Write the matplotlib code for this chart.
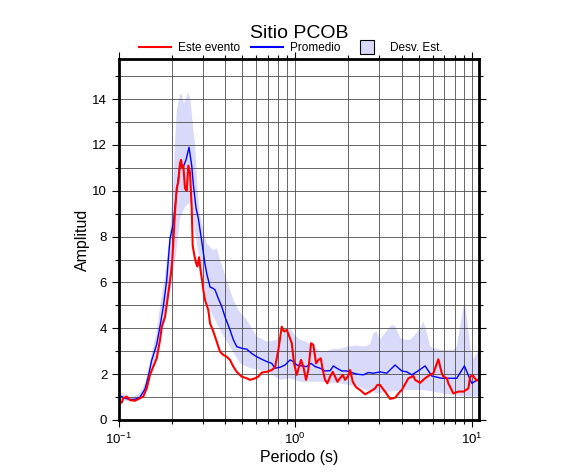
import numpy as np
import matplotlib
matplotlib.use('Agg')
import matplotlib.pyplot as plt
from matplotlib.lines import Line2D
from matplotlib.ticker import LogLocator, MultipleLocator, NullFormatter

plt.rcParams['font.family'] = ['Liberation Sans', 'DejaVu Sans']
plt.rcParams['mathtext.default'] = 'regular'

# ---- data (period in s, amplitude) ----
mean_per = [0.100, 0.101, 0.108, 0.115, 0.123, 0.1316, 0.1404, 0.1466, 0.1532, 0.1636,
            0.1709, 0.1784, 0.1865, 0.1904, 0.1947, 0.2032, 0.2125, 0.2218, 0.2316, 0.2399,
            0.2495, 0.2584, 0.2638, 0.2733, 0.2817, 0.2945, 0.3074, 0.3143, 0.3282, 0.3400,
            0.3503, 0.3658, 0.3824, 0.3992, 0.4262, 0.4450, 0.4652, 0.4966, 0.5302, 0.5660,
            0.6041, 0.6448, 0.6882, 0.7347, 0.7672, 0.8190, 0.8743, 0.9332, 0.9743, 1.018,
            1.087, 1.160, 1.228, 1.294, 1.381, 1.474, 1.574, 1.643, 1.718, 1.833,
            1.957, 2.089, 2.231, 2.431, 2.595, 2.770, 2.900, 3.022, 3.299, 3.676,
            4.014, 4.285, 4.574, 4.986, 5.442, 5.938, 6.767, 8.230, 9.089, 10.01,
            10.91]
mean_amp = [1.08, 1.06, 0.95, 0.90, 0.90, 1.00, 1.35, 1.90, 2.60, 3.30,
            4.10, 4.95, 6.10, 7.00, 7.90, 8.60, 10.0, 11.1, 11.05, 11.35,
            11.9, 11.1, 10.3, 9.25, 8.80, 7.80, 6.80, 6.40, 5.80, 5.75,
            5.68, 5.30, 4.95, 4.50, 3.93, 3.50, 3.20, 3.13, 3.09, 2.90,
            2.76, 2.65, 2.55, 2.47, 2.26, 2.30, 2.40, 2.62, 2.55, 2.40,
            2.36, 2.33, 2.47, 2.33, 2.26, 2.14, 2.15, 2.36, 2.26, 2.14,
            2.14, 2.07, 2.00, 1.97, 2.07, 2.04, 2.07, 2.10, 2.04, 2.40,
            2.14, 2.10, 1.97, 2.15, 2.36, 1.92, 1.82, 1.82, 2.36, 1.60,
            1.78]

event_per = [0.100, 0.1036, 0.1058, 0.1106, 0.1154, 0.1232, 0.1316, 0.1373, 0.1436, 0.1499,
             0.1565, 0.1636, 0.1709, 0.1747, 0.1824, 0.1904, 0.1972, 0.2006, 0.2078, 0.2125,
             0.2170, 0.2218, 0.2248, 0.2286, 0.2316, 0.2368, 0.2421, 0.2472, 0.2527, 0.2584,
             0.2618, 0.2673, 0.2733, 0.2780, 0.2843, 0.2907, 0.2945, 0.3007, 0.3074, 0.3209,
             0.3282, 0.3427, 0.3582, 0.3740, 0.3905, 0.4082, 0.4262, 0.4450, 0.4652, 0.4966,
             0.5302, 0.5536, 0.5909, 0.6168, 0.6448, 0.6882, 0.7347, 0.7672, 0.8011, 0.8374,
             0.8630, 0.8939, 0.9249, 0.9541, 0.9832, 1.018, 1.050, 1.077, 1.110, 1.150,
             1.185, 1.228, 1.265, 1.311, 1.351, 1.394, 1.431, 1.474, 1.519, 1.574,
             1.630, 1.680, 1.731, 1.793, 1.858, 1.914, 1.983, 2.044, 2.117, 2.210,
             2.328, 2.485, 2.653, 2.832, 2.918, 3.022, 3.226, 3.444, 3.676, 3.926,
             4.014, 4.375, 4.671, 4.776, 5.098, 5.442, 5.807, 6.064, 6.473, 6.767,
             6.910, 7.224, 7.376, 7.873, 8.404, 9.000, 9.578, 9.793, 10.14, 10.35,
             10.69, 11.0]
event_amp = [0.73, 0.76, 0.95, 1.02, 0.87, 0.84, 0.95, 1.02, 1.38, 1.97,
             2.33, 2.69, 3.49, 4.07, 4.50, 5.53, 6.40, 7.00, 9.10, 10.1,
             10.4, 11.2, 11.35, 11.0, 11.1, 10.1, 10.0, 11.1, 10.8, 9.25,
             7.60, 7.20, 6.85, 6.70, 7.10, 6.48, 6.20, 5.68, 5.24, 4.80,
             4.22, 3.86, 3.42, 2.98, 2.84, 2.76, 2.62, 2.33, 2.10, 1.89,
             1.82, 1.75, 1.82, 1.89, 2.07, 2.10, 2.18, 2.30, 3.06, 4.07,
             3.86, 3.93, 3.64, 3.35, 2.47, 1.97, 2.33, 2.62, 2.33, 1.75,
             2.18, 3.35, 3.28, 2.47, 2.62, 2.69, 2.18, 1.75, 1.60, 1.89,
             2.10, 1.89, 1.67, 1.82, 1.97, 1.75, 1.89, 2.18, 1.67, 1.43,
             1.31, 1.12, 1.24, 1.38, 1.53, 1.53, 1.24, 0.92, 0.97, 1.24,
             1.31, 1.82, 1.92, 1.75, 1.62, 1.82, 1.97, 2.04, 2.65, 2.04,
             1.89, 1.82, 1.60, 1.16, 1.24, 1.24, 1.38, 1.89, 1.95, 1.85,
             1.72, 1.75]

upper_per = [0.100, 0.108, 0.115, 0.123, 0.1316, 0.1404, 0.1466, 0.1532, 0.1636, 0.1709,
             0.1824, 0.1947, 0.2032, 0.2078, 0.2125, 0.2218, 0.2268, 0.2338, 0.2472, 0.2550,
             0.2638, 0.2698, 0.2780, 0.2854, 0.2945, 0.3143, 0.3427, 0.3582, 0.3740, 0.4082,
             0.4450, 0.4750, 0.5302, 0.6041, 0.6882, 0.7845, 0.8190, 0.8743, 0.9332, 0.9961,
             1.063, 1.160, 1.265, 1.381, 1.500, 1.643, 1.793, 1.957, 2.231, 2.485,
             2.653, 2.770, 2.895, 3.022, 3.299, 3.521, 3.676, 3.926, 4.191, 4.500,
             5.000, 5.322, 5.564, 5.807, 6.618, 7.873, 8.230, 8.785, 9.089, 9.379,
             9.793, 10.22, 11.0]
upper_amp = [1.25, 1.10, 1.00, 1.05, 1.20, 1.60, 2.20, 2.90, 3.80, 4.95,
             6.30, 8.20, 10.3, 12.0, 13.5, 14.2, 14.2, 13.8, 14.3, 13.9,
             12.7, 12.0, 10.3, 9.10, 8.60, 7.70, 7.40, 7.50, 7.00, 6.10,
             5.24, 4.80, 4.37, 3.64, 3.42, 3.49, 3.50, 3.90, 4.00, 3.70,
             3.50, 3.40, 3.20, 3.00, 3.00, 3.10, 3.10, 3.20, 3.25, 3.20,
             3.30, 3.80, 3.86, 3.50, 3.90, 4.15, 4.10, 3.60, 3.49, 3.50,
             3.90, 4.30, 3.80, 3.20, 3.06, 3.06, 3.20, 4.50, 5.20, 4.50,
             3.20, 2.65, 3.06]

lower_per = [0.100, 0.108, 0.115, 0.123, 0.1316, 0.1404, 0.1466, 0.1532, 0.1636, 0.1709,
             0.1824, 0.1947, 0.2125, 0.2218, 0.2368, 0.2527, 0.2638, 0.2698, 0.2854, 0.3143,
             0.3282, 0.3740, 0.4262, 0.4857, 0.5536, 0.6307, 0.7186, 0.8190, 0.9332, 1.063,
             1.381, 1.793, 2.231, 2.895, 3.444, 4.285, 5.400, 7.224, 9.379, 11.0]
lower_amp = [0.90, 0.85, 0.80, 0.82, 0.90, 1.15, 1.60, 2.20, 2.80, 3.40,
             4.30, 5.50, 7.50, 8.80, 9.30, 9.50, 9.00, 8.20, 7.00, 5.24,
             4.80, 3.93, 3.20, 2.47, 2.26, 2.18, 2.04, 1.75, 1.82, 1.67,
             1.67, 1.60, 1.46, 1.16, 1.24, 1.31, 1.30, 1.13, 1.02, 1.02]

band_color = '#d9d9fa'

fig = plt.figure(figsize=(5.86, 4.75), dpi=100)
ax = fig.add_axes([119/586, 1-420/475, 360/586, 361/475])

# std band as polygon: upper curve then lower curve backwards
ax.fill(np.concatenate([upper_per, lower_per[::-1]]),
        np.concatenate([upper_amp, lower_amp[::-1]]),
        color=band_color, lw=0, zorder=1)
ax.plot(mean_per, mean_amp, color='#0000ff', lw=1.0, zorder=3)
ax.plot(event_per, event_amp, color='#ff0000', lw=1.5, zorder=4)

ax.set_xscale('log')
ax.set_xlim(0.1, 11)
ax.set_ylim(0, 15.75)

ax.xaxis.set_major_locator(LogLocator(base=10))
ax.xaxis.set_minor_locator(LogLocator(base=10, subs=np.arange(2, 10)))
ax.xaxis.set_minor_formatter(NullFormatter())
ax.yaxis.set_major_locator(MultipleLocator(2))
ax.yaxis.set_minor_locator(MultipleLocator(1))

ax.grid(True, which='both', color='0.3', lw=0.6, zorder=2)
ax.set_axisbelow(False)
for s in ax.spines.values():
    s.set_linewidth(2.0)
    s.set_zorder(5)

ax.tick_params(which='both', direction='out', top=True, right=True,
               labelsize=9.5, width=0.8)
ax.tick_params(which='major', length=5)
ax.tick_params(which='minor', length=3)

ax.set_xlabel('Periodo (s)', fontsize=11.5, labelpad=2)
ax.set_ylabel('Amplitud', fontsize=11.5, labelpad=2)
fig.text(299/586, 1-34/475, 'Sitio PCOB', ha='center', va='center', fontsize=14)

handles = [Line2D([], [], color='#ff0000', lw=1.5),
           Line2D([], [], color='#0000ff', lw=1.5),
           Line2D([], [], ls='none', marker='s', markersize=10,
                  markerfacecolor=band_color, markeredgecolor='k', markeredgewidth=0.8)]
fig.legend(handles, ['Este evento', 'Promedio', 'Desv. Est.'], ncol=3,
           loc='center', bbox_to_anchor=(291/586, 1-48/475), frameon=False,
           fontsize=8.5, handlelength=2.7, handletextpad=0.6, columnspacing=0.9,
           borderpad=0, borderaxespad=0)

fig.savefig('out.png', dpi=100)
